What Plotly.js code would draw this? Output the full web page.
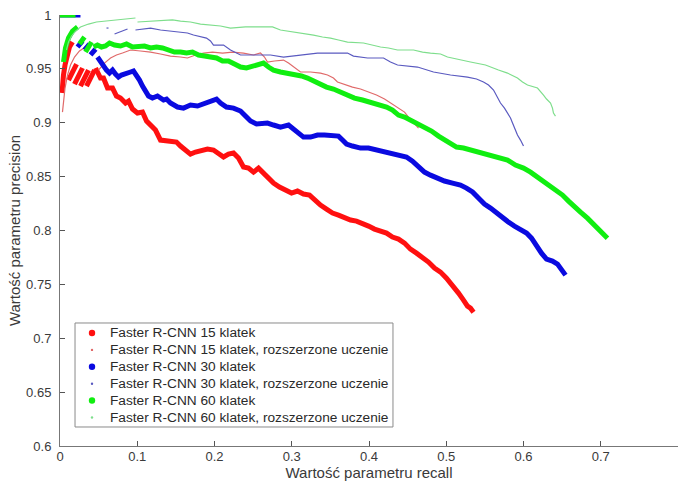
<!DOCTYPE html>
<html>
<head>
<meta charset="utf-8">
<script src="https://cdn.plot.ly/plotly-3.0.1.min.js"></script>
<style>html,body{margin:0;padding:0;background:#fff;}#chart{width:683px;height:486px;}</style>
</head>
<body>
<div id="chart"></div>
<script>
// ---- Series names ----
const seriesNames = [
  "Faster R-CNN 15 klatek",
  "Faster R-CNN 15 klatek, rozszerzone uczenie",
  "Faster R-CNN 30 klatek",
  "Faster R-CNN 30 klatek, rozszerzone uczenie",
  "Faster R-CNN 60 klatek",
  "Faster R-CNN 60 klatek, rozszerzone uczenie"
];

// ---- Faster R-CNN 15 klatek (recall / precision, null = break) ----
const recall15 = [0.0026,0.0032,0.0045,0.0065,0.0091,0.0123,0.0162,null,
  0.0110,0.0214,null,0.0188,0.0291,null,0.0265,0.0369,null,0.0343,0.0447,null,
  0.0460,0.0524,0.0563,0.0615,0.0680,0.0731,0.0783,0.0848,0.0887,0.0939,0.1003,0.1068,0.1120,0.1172,0.1236,0.1301,0.1366,0.1430,0.1508,0.1560,0.1625,0.1689,0.1754,0.1832,0.1909,0.1987,0.2052,0.2117,0.2181,0.2246,0.2311,0.2375,0.2440,0.2505,0.2570,0.2634,0.2699,0.2764,0.2841,0.2919,0.2997,0.3074,0.3152,0.3230,0.3294,0.3372,0.3450,0.3528,0.3605,0.3683,0.3761,0.3838,0.3916,0.3994,0.4071,0.4149,0.4227,0.4304,0.4382,0.4460,0.4537,0.4615,0.4693,0.4770,0.4848,0.4926,0.5003,0.5081,0.5159,0.5223,0.5275,0.5314,0.5353];
const precision15 = [0.9276,0.9350,0.9443,0.9536,0.9629,0.9703,0.9749,null,
  0.9396,0.9545,null,0.9359,0.9508,null,0.9341,0.9489,null,0.9341,0.9489,null,
  0.9508,0.9415,0.9415,0.9322,0.9322,0.9248,0.9229,0.9183,0.9201,0.9127,0.9090,0.9099,0.9016,0.8979,0.8932,0.8839,0.8830,0.8821,0.8821,0.8784,0.8747,0.8709,0.8728,0.8747,0.8756,0.8747,0.8709,0.8682,0.8709,0.8719,0.8672,0.8589,0.8579,0.8542,0.8579,0.8533,0.8487,0.8440,0.8403,0.8375,0.8347,0.8366,0.8338,0.8329,0.8282,0.8236,0.8199,0.8162,0.8143,0.8115,0.8097,0.8087,0.8069,0.8041,0.8013,0.7994,0.7976,0.7939,0.7920,0.7883,0.7827,0.7790,0.7753,0.7707,0.7651,0.7614,0.7558,0.7493,0.7419,0.7354,0.7298,0.7279,0.7242];

// ---- Faster R-CNN 15 klatek, rozszerzone uczenie ----
const recall15ext = [0.0032,0.0045,0.0065,0.0097,0.0136,0.0188,0.0252,0.0330,null,
  0.0498,0.0576,0.0654,0.0731,0.0809,0.0913,0.1042,0.1172,0.1301,0.1430,0.1560,0.1650,0.1754,0.1858,0.1974,0.2104,0.2233,0.2375,0.2505,0.2595,0.2647,0.2686,0.2777,0.2893,0.2958,0.3023,0.3113,0.3243,0.3372,0.3463,0.3540,0.3592,0.3696,0.3786,0.3890,0.3994,0.4097,0.4201,0.4304,0.4382,0.4460,0.4511,0.4563,0.4602,0.4641];
const precision15ext = [0.9099,0.9211,0.9322,0.9443,0.9536,0.9610,0.9666,0.9703,null,
  0.9489,0.9554,0.9601,0.9629,0.9647,0.9675,0.9666,0.9656,0.9638,0.9619,0.9610,0.9601,0.9629,0.9647,0.9656,0.9647,0.9656,0.9647,0.9629,0.9647,0.9610,0.9564,0.9573,0.9582,0.9554,0.9517,0.9471,0.9471,0.9461,0.9443,0.9415,0.9378,0.9350,0.9331,0.9313,0.9285,0.9257,0.9220,0.9174,0.9136,0.9099,0.9053,0.9016,0.8979,0.8951];

// ---- Faster R-CNN 30 klatek ----
const recall30 = [0.0000,0.0265,null,0.0227,0.0291,null,0.0317,0.0382,null,0.0395,0.0460,null,
  0.0485,0.0524,0.0563,0.0602,0.0641,0.0680,0.0718,0.0757,0.0796,0.0848,0.0913,0.0951,0.0990,0.1029,0.1068,0.1107,0.1146,0.1197,0.1262,0.1340,0.1379,0.1430,0.1521,0.1599,0.1689,0.1780,0.1871,0.1948,0.2026,0.2078,0.2155,0.2246,0.2337,0.2401,0.2466,0.2544,0.2608,0.2686,0.2764,0.2854,0.2958,0.3023,0.3087,0.3152,0.3243,0.3333,0.3424,0.3528,0.3605,0.3657,0.3709,0.3786,0.3890,0.3994,0.4097,0.4201,0.4304,0.4408,0.4485,0.4563,0.4641,0.4718,0.4796,0.4874,0.4977,0.5081,0.5184,0.5262,0.5340,0.5417,0.5495,0.5573,0.5650,0.5728,0.5806,0.5883,0.5961,0.6039,0.6104,0.6168,0.6233,0.6298,0.6375,0.6440,0.6492,0.6544];
const precision30 = [1.0000,1.0000,null,0.9703,0.9759,null,0.9675,0.9731,null,0.9629,0.9684,null,
  0.9610,0.9564,0.9526,0.9489,0.9461,0.9489,0.9452,0.9424,0.9443,0.9461,0.9471,0.9480,0.9443,0.9396,0.9341,0.9285,0.9248,0.9229,0.9248,0.9211,0.9220,0.9183,0.9146,0.9136,0.9164,0.9155,0.9183,0.9201,0.9220,0.9183,0.9146,0.9136,0.9109,0.9062,0.9016,0.8988,0.8997,0.8997,0.8979,0.8960,0.8979,0.8942,0.8904,0.8867,0.8867,0.8886,0.8886,0.8886,0.8876,0.8839,0.8802,0.8784,0.8765,0.8765,0.8747,0.8737,0.8719,0.8700,0.8682,0.8644,0.8589,0.8542,0.8514,0.8487,0.8459,0.8440,0.8422,0.8394,0.8357,0.8301,0.8245,0.8208,0.8162,0.8124,0.8078,0.8041,0.8004,0.7976,0.7929,0.7855,0.7790,0.7734,0.7716,0.7688,0.7632,0.7586];

// ---- Faster R-CNN 30 klatek, rozszerzone uczenie ----
const recall30ext = [0.0602,0.0628,null,0.0706,0.0874,null,
  0.0977,0.1172,0.1301,0.1430,0.1560,0.1650,0.1728,0.1819,0.1896,0.1948,0.1987,0.2117,0.2207,0.2337,0.2557,0.2725,0.2893,0.3113,0.3333,0.3540,0.3722,0.3799,0.3981,0.4188,0.4278,0.4369,0.4628,0.4835,0.5055,0.5275,0.5392,0.5482,0.5547,0.5612,0.5663,0.5702,0.5754,0.5793,0.5832,0.5858,0.5896,0.5922,0.5961,0.6000];
const precision30ext = [0.9879,0.9879,null,0.9824,0.9870,null,
  0.9861,0.9879,0.9861,0.9851,0.9842,0.9833,0.9814,0.9796,0.9786,0.9759,0.9721,0.9721,0.9675,0.9629,0.9629,0.9629,0.9610,0.9629,0.9647,0.9647,0.9647,0.9619,0.9601,0.9601,0.9564,0.9536,0.9517,0.9471,0.9443,0.9424,0.9406,0.9378,0.9350,0.9304,0.9239,0.9183,0.9136,0.9090,0.9044,0.8997,0.8932,0.8886,0.8839,0.8784];

// ---- Faster R-CNN 60 klatek ----
const recall60 = [0.0000,0.0201,null,0.0045,0.0071,0.0110,0.0162,0.0227,null,0.0252,0.0317,null,0.0330,0.0408,null,
  0.0434,0.0485,0.0537,0.0589,0.0641,0.0706,0.0783,0.0861,0.0939,0.1016,0.1094,0.1172,0.1249,0.1327,0.1405,0.1482,0.1560,0.1638,0.1715,0.1793,0.1871,0.1948,0.2026,0.2104,0.2181,0.2259,0.2337,0.2414,0.2492,0.2570,0.2634,0.2699,0.2764,0.2854,0.2945,0.3036,0.3126,0.3204,0.3282,0.3359,0.3450,0.3540,0.3631,0.3722,0.3812,0.3916,0.4019,0.4123,0.4227,0.4304,0.4382,0.4460,0.4537,0.4628,0.4718,0.4809,0.4900,0.4977,0.5055,0.5133,0.5223,0.5314,0.5405,0.5508,0.5612,0.5702,0.5793,0.5896,0.6000,0.6091,0.6181,0.6272,0.6350,0.6427,0.6505,0.6583,0.6660,0.6738,0.6828,0.6906,0.6971,0.7036,0.7087];
const precision60 = [1.0000,1.0000,null,0.9564,0.9694,0.9786,0.9851,0.9889,null,0.9731,0.9796,null,0.9656,0.9749,null,
  0.9703,0.9721,0.9703,0.9712,0.9740,0.9721,0.9712,0.9731,0.9703,0.9703,0.9712,0.9694,0.9703,0.9694,0.9675,0.9656,0.9656,0.9647,0.9656,0.9629,0.9619,0.9610,0.9601,0.9573,0.9573,0.9545,0.9517,0.9508,0.9526,0.9545,0.9554,0.9517,0.9489,0.9471,0.9461,0.9443,0.9434,0.9415,0.9387,0.9359,0.9331,0.9313,0.9285,0.9257,0.9229,0.9211,0.9192,0.9174,0.9146,0.9118,0.9071,0.9053,0.9025,0.8997,0.8960,0.8923,0.8876,0.8839,0.8802,0.8774,0.8765,0.8747,0.8728,0.8709,0.8682,0.8672,0.8654,0.8607,0.8579,0.8542,0.8496,0.8449,0.8403,0.8366,0.8329,0.8273,0.8217,0.8171,0.8115,0.8059,0.8013,0.7967,0.7929];

// ---- Faster R-CNN 60 klatek, rozszerzone uczenie ----
const recall60ext = [0.0084,0.0110,0.0149,0.0201,0.0265,0.0369,0.0472,0.0589,0.0706,0.0809,0.0913,0.0977,null,
  0.1003,0.1172,0.1301,0.1456,0.1560,0.1689,0.1819,0.1948,0.2078,0.2207,0.2401,0.2595,0.2751,0.2854,0.2958,0.3074,0.3178,0.3282,0.3398,0.3502,0.3605,0.3722,0.3929,0.4045,0.4149,0.4252,0.4369,0.4576,0.4693,0.4796,0.4926,0.5016,0.5223,0.5314,0.5508,0.5573,0.5676,0.5793,0.5858,0.5922,0.5987,0.6052,0.6181,0.6220,0.6259,0.6298,0.6350,0.6375,0.6388,0.6414];
const precision60ext = [0.9675,0.9749,0.9805,0.9851,0.9889,0.9916,0.9935,0.9944,0.9954,0.9963,0.9972,0.9972,null,
  0.9935,0.9944,0.9949,0.9954,0.9944,0.9935,0.9916,0.9907,0.9898,0.9879,0.9889,0.9889,0.9889,0.9861,0.9851,0.9833,0.9824,0.9814,0.9796,0.9786,0.9768,0.9749,0.9740,0.9721,0.9703,0.9694,0.9675,0.9675,0.9656,0.9647,0.9638,0.9610,0.9582,0.9564,0.9536,0.9517,0.9489,0.9461,0.9434,0.9415,0.9378,0.9350,0.9322,0.9294,0.9257,0.9220,0.9183,0.9136,0.9090,0.9062];

// ---- Axis ticks ----
const xTickVals = [0,0.1,0.2,0.3,0.4,0.5,0.6,0.7,0.8];
const xTickText = ["0","0.1","0.2","0.3","0.4","0.5","0.6","0.7","0.8"];
const yTickVals = [0.6,0.65,0.7,0.75,0.8,0.85,0.9,0.95,1];
const yTickText = ["0.6","0.65","0.7","0.75","0.8","0.85","0.9","0.95","1"];

const thickColors = {r:"#ff1010", b:"#0a0ae0", g:"#10ee10"};
const thinColors = {r:"#e06a6a", b:"#5a5ac0", g:"#7ede8c"};

const dataSets = [
  {x:recall15, y:precision15, c:thickColors.r, w:5},
  {x:recall15ext, y:precision15ext, c:thinColors.r, w:1.2},
  {x:recall30, y:precision30, c:thickColors.b, w:5},
  {x:recall30ext, y:precision30ext, c:thinColors.b, w:1.2},
  {x:recall60, y:precision60, c:thickColors.g, w:5},
  {x:recall60ext, y:precision60ext, c:thinColors.g, w:1.2}
];

const traces = dataSets.map((d) => ({x:d.x, y:d.y, type:"scatter", mode:"lines", connectgaps:false,
    line:{color:d.c, width:d.w}, showlegend:false, hoverinfo:"skip"}));

// ---- legend drawn as a box with dot symbols and text (MATLAB-like spacing) ----
const L = {left:0.0243, right:0.5388, top:0.2854, bottom:0.0441, dotX:0.0518, textX:0.0777, firstY:0.2622, step:0.0392};
const shapes = [{type:"rect", xref:"paper", yref:"paper", x0:L.left, x1:L.right, y0:L.bottom, y1:L.top,
  line:{color:"#8a8a8a", width:1}, fillcolor:"#fff", layer:"above"}];
const annotations = [];
dataSets.forEach((d, i) => {
  const yc = L.firstY - i * L.step;
  const rx = (d.w > 2 ? 3.2 : 1.2) / 618, ry = (d.w > 2 ? 3.2 : 1.2) / 431;
  shapes.push({type:"circle", xref:"paper", yref:"paper", x0:L.dotX - rx, x1:L.dotX + rx, y0:yc - ry, y1:yc + ry,
    fillcolor:d.c, line:{width:0}, layer:"above"});
  annotations.push({xref:"paper", yref:"paper", x:L.textX, y:yc, xanchor:"left", yanchor:"middle",
    text:seriesNames[i], showarrow:false, font:{size:13.7, color:"#2a2a2a"}});
});

const font = "Liberation Sans, Arial, sans-serif";
const layout = {
  width:683, height:486,
  margin:{l:60, r:5, t:15, b:40},
  paper_bgcolor:"#fff", plot_bgcolor:"#fff",
  font:{family:font, size:13, color:"#3a3a3a"},
  showlegend:false,
  shapes:shapes, annotations:annotations,
  xaxis:{range:[0,0.8], tickvals:xTickVals, ticktext:xTickText, ticks:"inside", ticklen:5,
    tickcolor:"#555", showline:true, linecolor:"#777", linewidth:1, showgrid:false, zeroline:false,
    mirror:false, tickfont:{size:13, color:"#3a3a3a"}, ticklabelstandoff:-2,
    title:{text:"Wartość parametru recall", font:{size:15, color:"#3a3a3a"}, standoff:2}},
  yaxis:{range:[0.6,1], tickvals:yTickVals, ticktext:yTickText, ticks:"inside", ticklen:5,
    tickcolor:"#555", showline:true, linecolor:"#777", linewidth:1, showgrid:false, zeroline:false,
    mirror:false, tickfont:{size:13, color:"#3a3a3a"}, ticklabelstandoff:5,
    title:{text:"Wartość parametru precision", font:{size:15, color:"#3a3a3a"}, standoff:1}}
};

Plotly.newPlot("chart", traces, layout, {staticPlot:true, displayModeBar:false});
</script>
</body>
</html>
